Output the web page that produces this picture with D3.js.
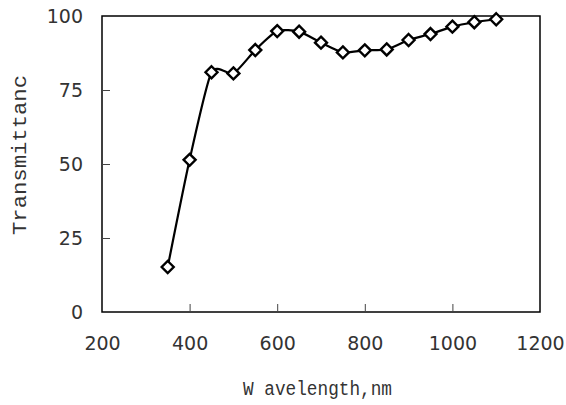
<!DOCTYPE html>
<html>
<head>
<meta charset="utf-8">
<script src="https://cdn.jsdelivr.net/npm/d3@7"></script>
<style>
  body { margin: 0; background: #fff; }
</style>
</head>
<body>
<div id="chart"></div>
<script>
const wavelength = [350, 400, 450, 500, 550, 600, 650, 700, 750, 800, 850, 900, 950, 1000, 1050, 1100];
const transmittance = [15.2, 51.4, 81, 80.6, 88.5, 94.9, 94.7, 91, 87.7, 88.4, 88.7, 91.9, 93.9, 96.4, 97.9, 98.9];
const xTicks = [200, 400, 600, 800, 1000, 1200];
const yTicks = [0, 25, 50, 75, 100];

const width = 566, height = 405;
const margin = {top: 16, right: 26, bottom: 93, left: 102};

const svg = d3.select('#chart').append('svg')
  .attr('width', width)
  .attr('height', height);

const x = d3.scaleLinear().domain([200, 1200]).range([margin.left, width - margin.right]);
const y = d3.scaleLinear().domain([0, 100]).range([height - margin.bottom, margin.top]);

// frame
svg.append('rect')
  .attr('x', x(200)).attr('y', y(100))
  .attr('width', x(1200) - x(200)).attr('height', y(0) - y(100))
  .attr('fill', 'none').attr('stroke', '#000').attr('stroke-width', 1.5);

// inner ticks
const xAxis = svg.append('g')
  .attr('transform', `translate(0,${y(0)})`)
  .call(d3.axisBottom(x).tickValues(xTicks).tickSize(-8).tickPadding(25).tickFormat(d3.format('d')));
const yAxis = svg.append('g')
  .attr('transform', `translate(${x(200)},0)`)
  .call(d3.axisLeft(y).tickValues(yTicks).tickSize(-8).tickPadding(19));

[xAxis, yAxis].forEach(ax => {
  ax.select('.domain').remove();
  ax.selectAll('line').attr('stroke', '#444').attr('stroke-width', 1);
  ax.selectAll('text')
    .attr('fill', '#333')
    .style('font-family', '"DejaVu Sans", sans-serif')
    .style('font-size', '19px');
});
// hide ticks at the frame edges
xAxis.selectAll('.tick').filter(d => d === 200 || d === 1200).select('line').remove();
yAxis.selectAll('.tick').filter(d => d === 0 || d === 100).select('line').remove();

// smoothed line
const line = d3.line()
  .x((d, i) => x(wavelength[i]))
  .y(d => y(d))
  .curve(d3.curveCardinal.tension(0.35));

svg.append('path')
  .datum(transmittance)
  .attr('d', line)
  .attr('fill', 'none')
  .attr('stroke', '#000')
  .attr('stroke-width', 2.2);

// diamond markers
svg.selectAll('.marker')
  .data(transmittance)
  .join('path')
  .attr('class', 'marker')
  .attr('transform', (d, i) => `translate(${x(wavelength[i])},${y(d)})`)
  .attr('d', 'M0,-6L6,0L0,6L-6,0Z')
  .attr('fill', '#fff')
  .attr('stroke', '#000')
  .attr('stroke-width', 2.4);

// axis titles
svg.append('text')
  .attr('x', 243).attr('y', 395)
  .attr('textLength', 149)
  .attr('lengthAdjust', 'spacingAndGlyphs')
  .style('font-family', '"Liberation Mono", monospace')
  .style('font-size', '20px')
  .attr('fill', '#333')
  .text('W avelength,nm');

svg.append('text')
  .attr('transform', 'translate(26,155) rotate(-90)')
  .attr('text-anchor', 'middle')
  .attr('textLength', 160)
  .attr('lengthAdjust', 'spacingAndGlyphs')
  .style('font-family', '"Liberation Mono", monospace')
  .style('font-size', '20px')
  .attr('fill', '#333')
  .text('Transmittanc');
</script>
</body>
</html>
